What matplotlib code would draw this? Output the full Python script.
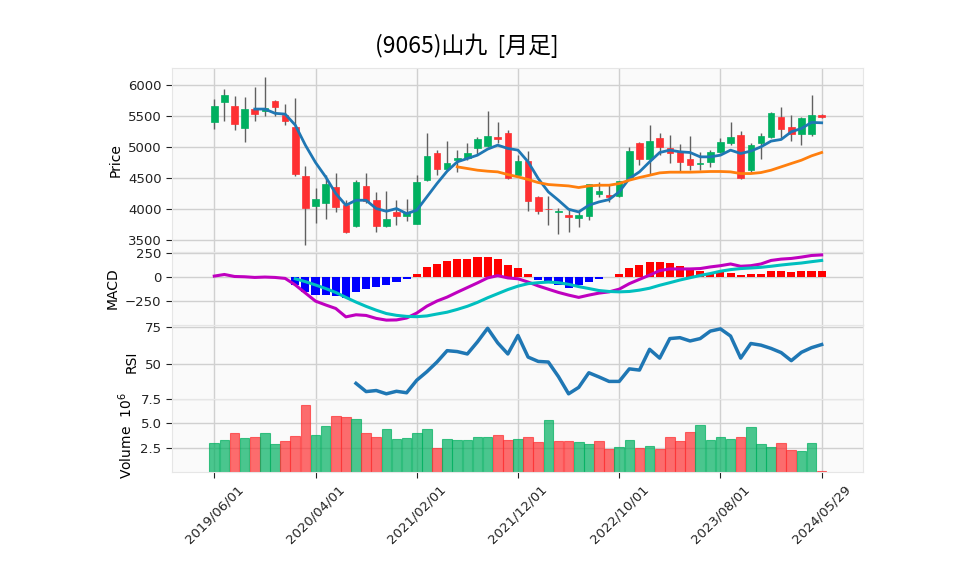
import numpy as np
import pandas as pd
import matplotlib
matplotlib.use("Agg")
import matplotlib.pyplot as plt

plt.rcParams["font.family"] = ["DejaVu Sans", "Noto Sans CJK JP"]

TITLE = "(9065)山九  [月足]"

# monthly bars 2019/06 .. 2024/05 plus the current-day bar
dates = list(pd.date_range("2019-06-01", periods=60, freq="MS").strftime("%Y/%m/%d")) + ["2024/05/29"]

opens = [5398, 5731, 5661, 5301, 5613, 5590, 5740, 5521, 5323, 4532,
         4054, 4102, 4355, 4075, 3726, 4371, 4145, 3730, 3952, 3893,
         3764, 4468, 4898, 4651, 4796, 4828, 4979, 5022, 5161, 5220,
         4559, 4774, 4194, 4006, 3957, 3909, 3866, 3893, 4247, 4226,
         4210, 4495, 5059, 4817, 5140, 4979, 4914, 4817, 4731, 4753,
         4925, 5070, 5194, 4629, 5070, 5167, 5484, 5317, 5204, 5204,
         5516]
highs = [5769, 5930, 5828, 5812, 5962, 6124, 5765, 5688, 5785, 4694,
         4350, 4548, 4591, 4156, 4479, 4591, 4280, 4301, 4156, 4172,
         4559, 5231, 4962, 5091, 4962, 5070, 5167, 5581, 5409, 5274,
         4871, 4936, 4210, 4210, 4016, 3995, 3995, 4414, 4435, 4414,
         4460, 5005, 5086, 5355, 5220, 5194, 5043, 5177, 4914, 4952,
         5140, 5409, 5258, 5059, 5220, 5559, 5640, 5516, 5489, 5839,
         5527]
lows = [5290, 5419, 5269, 5075, 5419, 5495, 5495, 5355, 4538, 3430,
        3785, 3850, 3957, 3625, 3715, 4100, 3633, 3720, 3753, 3807,
        3764, 4452, 4559, 4640, 4602, 4796, 4871, 5005, 5059, 4495,
        4548, 3973, 3930, 3742, 3597, 3635, 3710, 3823, 4199, 4118,
        4199, 4468, 4710, 4548, 4871, 4737, 4602, 4629, 4629, 4683,
        4898, 5032, 4495, 4602, 4807, 5140, 5140, 5097, 5032, 5183,
        5473]
closes = [5661, 5839, 5366, 5613, 5530, 5625, 5641, 5415, 4575, 4022,
          4172, 4403, 4038, 3635, 4436, 4135, 3731, 3850, 3893, 3952,
          4436, 4855, 4651, 4742, 4823, 4898, 5129, 5177, 5124, 4505,
          4774, 4135, 3968, 4000, 3963, 3871, 3903, 4403, 4290, 4199,
          4452, 4946, 4817, 5097, 5005, 4898, 4763, 4720, 4742, 4914,
          5075, 5161, 4505, 5032, 5177, 5543, 5285, 5204, 5462, 5516,
          5478]
volumes = [2.96, 3.27, 3.98, 3.47, 3.57, 3.98, 2.86, 3.16, 3.67, 6.84,
           3.78, 4.69, 5.71, 5.61, 5.41, 3.98, 3.57, 4.39, 3.37, 3.47,
           3.98, 4.39, 2.45, 3.37, 3.27, 3.27, 3.57, 3.57, 3.78, 3.27,
           3.37, 3.57, 3.06, 5.31, 3.16, 3.16, 3.06, 2.86, 3.16, 2.35,
           2.55, 3.27, 2.45, 2.65, 2.35, 3.57, 3.16, 4.08, 4.80, 3.27,
           3.57, 3.37, 3.57, 4.59, 2.86, 2.55, 2.96, 2.24, 2.14, 2.96,
           0.08]

nan = np.nan
ma_5 = [nan] * 4 + [
    5613, 5613, 5545, 5532, 5355, 5032, 4753, 4522, 4253, 4065,
    4145, 4145, 4011, 3968, 4011, 3930, 3984, 4199, 4414, 4613,
    4763, 4817, 4871, 4968, 5032, 4979, 4952, 4763, 4495, 4280,
    4145, 4000, 3957, 4065, 4118, 4156, 4280, 4495, 4602, 4763,
    4914, 4952, 4925, 4914, 4844, 4844, 4871, 4952, 4898, 4936,
    5005, 5097, 5124, 5247, 5301, 5398, 5392]
ma_25 = [nan] * 24 + [
    4683, 4656, 4629, 4613, 4602, 4559, 4522, 4479, 4430, 4398,
    4387, 4376, 4350, 4376, 4387, 4387, 4414, 4468, 4511, 4548,
    4586, 4597, 4597, 4597, 4602, 4608, 4608, 4602, 4575, 4575,
    4591, 4629, 4683, 4737, 4790, 4860, 4914]

macd = [7, 24, 3, 0, -7, -3, -7, -17, -85, -170,
        -255, -295, -332, -420, -398, -405, -436, -454, -452, -432,
        -380, -308, -254, -213, -162, -113, -64, -12, 12, -12,
        -21, -55, -96, -130, -164, -192, -216, -192, -171, -158,
        -130, -72, -27, 17, 65, 82, 82, 82, 86, 103,
        116, 134, 110, 116, 134, 171, 185, 192, 206, 223,
        229]
signal = [nan] * 8 + [
    -21, -51, -86, -123, -164, -216, -265, -310, -350, -385,
    -404, -415, -418, -410, -390, -371, -342, -309, -268, -220,
    -177, -134, -98, -72, -62, -55, -62, -79, -103, -123,
    -144, -154, -158, -154, -140, -120, -89, -62, -34, -10,
    14, 34, 58, 75, 86, 92, 99, 110, 123, 134,
    144, 158, 171]
hist = [nan] * 8 + [
    -86, -158, -188, -188, -199, -219, -158, -127, -110, -86,
    -58, -24, 34, 106, 137, 168, 188, 188, 212, 212,
    188, 127, 92, 24, -34, -45, -89, -113, -85, -55,
    -24, -5, 34, 92, 120, 158, 158, 144, 116, 86,
    58, 41, 48, 41, 14, 24, 34, 65, 65, 55,
    65, 65, 65]

rsi = [nan] * 14 + [
    37.0, 31.5, 32.2, 30.0, 31.7, 30.7, 39.1, 44.8, 51.3, 58.9,
    58.3, 56.7, 64.8, 73.9, 64.1, 56.7, 69.1, 54.6, 51.7, 51.3,
    41.5, 30.0, 34.3, 44.1, 41.3, 38.3, 38.3, 46.7, 45.9, 59.8,
    53.9, 67.0, 67.6, 65.4, 67.0, 72.0, 73.5, 68.7, 53.9, 63.7,
    62.6, 60.4, 57.6, 52.2, 57.8, 60.9, 63.0]

UP = "#00b060"
DOWN = "#fe3032"
WICK = "#606060"
BG = "#fafafa"
GRID = "#d0d0d0"


def style_axis(ax):
    ax.set_facecolor(BG)
    ax.set_axisbelow(True)
    ax.grid(True, color=GRID, lw=1.0)
    for sp in ax.spines.values():
        sp.set_color("#e6e6e6")
        sp.set_linewidth(0.8)
    ax.tick_params(axis="y", direction="out", length=4, width=0.8, labelsize=9.5, colors="#222222")
    ax.tick_params(axis="x", direction="out", length=4, width=0.8, labelsize=9.5, colors="#222222")


def main() -> None:
    n = len(closes)
    x = np.arange(n)
    o = np.array(opens, float)
    c = np.array(closes, float)
    h = np.array(highs, float)
    lo = np.array(lows, float)

    fig = plt.figure(figsize=(9.58, 5.75), dpi=100)
    left, width = 0.1795, 0.7213
    ax_p = fig.add_axes([left, 0.5624, width, 0.3193])
    ax_m = fig.add_axes([left, 0.4348, width, 0.1277], sharex=ax_p)
    ax_r = fig.add_axes([left, 0.3068, width, 0.1280], sharex=ax_p)
    ax_v = fig.add_axes([left, 0.1791, width, 0.1277], sharex=ax_p)
    for ax in (ax_p, ax_m, ax_r, ax_v):
        style_axis(ax)

    # candles
    up = c >= o
    body_col = np.where(up, UP, DOWN)
    ax_p.vlines(x, lo, h, color=WICK, lw=1.0, zorder=2)
    body_h = np.maximum(np.abs(c - o), 8)
    ax_p.bar(x, body_h, bottom=np.minimum(o, c), width=0.65, color=body_col,
             edgecolor=body_col, lw=0.5, zorder=3)
    ax_p.plot(x, ma_5, color="#1f77b4", lw=2.0, zorder=4)
    ax_p.plot(x, ma_25, color="#ff7f0e", lw=2.0, zorder=4)
    ax_p.set_ylim(3318, 6274)
    ax_p.set_yticks([3500, 4000, 4500, 5000, 5500, 6000])
    ax_p.set_ylabel("Price", fontsize=10)

    # MACD
    h_arr = np.array(hist, float)
    h_col = np.where(h_arr >= 0, "#ff0000", "#0000ff")
    ax_m.bar(x, h_arr, width=0.8, color=h_col, zorder=2)
    ax_m.plot(x, macd, color="m", lw=2.2, zorder=3)
    ax_m.plot(x, signal, color="c", lw=2.2, zorder=3)
    ax_m.set_ylim(-505, 264)
    ax_m.set_yticks([-250, 0, 250])
    ax_m.set_ylabel("MACD", fontsize=10)

    # RSI
    ax_r.plot(x, rsi, color="#1f77b4", lw=2.5)
    ax_r.set_ylim(26.8, 76.1)
    ax_r.set_yticks([50, 75])
    ax_r.set_ylabel("RSI", fontsize=10)

    # volume, coloured by change from the previous close
    chg = np.diff(c, prepend=c[0])
    v_col = np.where(chg >= 0, UP, DOWN)
    ax_v.bar(x, volumes, width=0.95, color=v_col, edgecolor=v_col, lw=0.8, alpha=0.7)
    ax_v.set_ylim(0, 7.5)
    ax_v.set_yticks([2.5, 5.0, 7.5])
    ax_v.set_ylabel("Volume  $10^6$", fontsize=10)

    ticks = list(range(0, n, 10))
    ax_v.set_xticks(ticks)
    ax_v.set_xticklabels([dates[i] for i in ticks], rotation=45, ha="center")
    ax_v.set_xlim(-4.18, 64.08)
    for ax in (ax_p, ax_m, ax_r):
        ax.tick_params(axis="x", bottom=False, labelbottom=False)

    fig.text(0.4875, 0.92, TITLE, ha="center", va="center", fontsize=16.5,
             family=["Noto Sans CJK JP", "DejaVu Sans"])

    fig.savefig("out.png", dpi=100, facecolor="white")
    plt.close(fig)


if __name__ == "__main__":
    main()
